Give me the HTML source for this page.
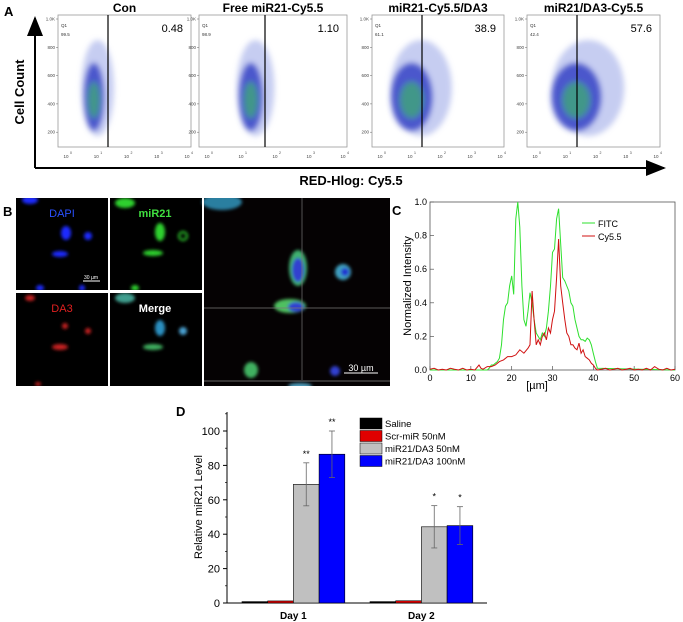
<!DOCTYPE html>
<html><head><meta charset="utf-8"><style>
body{margin:0;background:#fff}
svg{display:block;font-family:"Liberation Sans",Arial,sans-serif}
</style></head><body>
<svg id="fig" width="683" height="622" viewBox="0 0 683 622">
<defs>
<filter id="bl" x="-50%" y="-50%" width="200%" height="200%"><feGaussianBlur stdDeviation="3"/></filter>
<filter id="bl2" x="-50%" y="-50%" width="200%" height="200%"><feGaussianBlur stdDeviation="1.5"/></filter>
<clipPath id="bclip"><rect x="16" y="198" width="92" height="92"/><rect x="110" y="198" width="92" height="92"/><rect x="16" y="293" width="92" height="93"/><rect x="110" y="293" width="92" height="93"/><rect x="204" y="198" width="186" height="188"/></clipPath>
<marker id="arr" markerWidth="10" markerHeight="8" refX="9" refY="4" orient="auto"><path d="M0,0 L10,4 L0,8 z" fill="#000"/></marker>
</defs>
<!-- Panel A -->
<g>
<text x="4" y="16" font-size="13" font-weight="bold">A</text>
<line x1="35" y1="168" x2="35" y2="18" stroke="#000" stroke-width="2" marker-end="url(#arr)"/>
<line x1="35" y1="168" x2="664" y2="168" stroke="#000" stroke-width="2" marker-end="url(#arr)"/>
<text transform="translate(24,92) rotate(-90)" text-anchor="middle" font-size="13" font-weight="bold">Cell Count</text>
<text x="351" y="185" text-anchor="middle" font-size="13" font-weight="bold">RED-Hlog: Cy5.5</text>
<g id="flow"></g>
</g>
<!-- Panel B -->
<g>
<text x="3" y="216" font-size="13" font-weight="bold">B</text>
<rect x="16" y="198" width="92" height="92" fill="#000"/>
<rect x="110" y="198" width="92" height="92" fill="#000"/>
<rect x="16" y="293" width="92" height="93" fill="#000"/>
<rect x="110" y="293" width="92" height="93" fill="#000"/>
<rect x="204" y="198" width="186" height="188" fill="#050203"/>
<g clip-path="url(#bclip)"><g filter="url(#bl2)">
<ellipse cx="66" cy="233" rx="5" ry="7" fill="#1a2cff"/><ellipse cx="88" cy="236" rx="4" ry="4" fill="#1a2cff"/><ellipse cx="60" cy="254" rx="8" ry="3" fill="#1a2cff"/><ellipse cx="40" cy="288" rx="4" ry="3" fill="#1a2cff"/><ellipse cx="82" cy="288" rx="3" ry="3" fill="#1a2cff"/><ellipse cx="30" cy="200" rx="8" ry="4" fill="#1a2cff"/>
<ellipse cx="160" cy="232" rx="5" ry="9" fill="#2fd02f"/><ellipse cx="183" cy="236" rx="4" ry="4" fill="none" stroke="#2fd02f" stroke-width="2"/><ellipse cx="153" cy="253" rx="10" ry="3" fill="#2fd02f"/><ellipse cx="135" cy="288" rx="4" ry="3" fill="#2fd02f"/><ellipse cx="125" cy="203" rx="10" ry="5" fill="#2fd02f"/>
<ellipse cx="65" cy="326" rx="3" ry="3" fill="#c82020"/><ellipse cx="88" cy="331" rx="3" ry="3" fill="#c82020"/><ellipse cx="60" cy="347" rx="8" ry="3" fill="#c82020"/><ellipse cx="30" cy="298" rx="5" ry="3" fill="#c82020"/><ellipse cx="38" cy="384" rx="3" ry="2" fill="#c82020"/>
<ellipse cx="160" cy="328" rx="5" ry="8" fill="#2a8fc0"/><ellipse cx="183" cy="331" rx="4" ry="4" fill="#4aa0d0"/><ellipse cx="153" cy="347" rx="10" ry="3" fill="#3fb060"/><ellipse cx="125" cy="298" rx="10" ry="5" fill="#3f9f8f"/>
<ellipse cx="222" cy="202" rx="20" ry="8" fill="#2a7fa0"/><ellipse cx="298" cy="268" rx="9" ry="18" fill="#3fb070"/><ellipse cx="298" cy="270" rx="6" ry="12" fill="#3340d0"/><ellipse cx="343" cy="272" rx="8" ry="8" fill="#40a0c0"/><ellipse cx="345" cy="272" rx="4" ry="4" fill="#2030d0"/><ellipse cx="290" cy="306" rx="16" ry="7" fill="#50c060"/><ellipse cx="296" cy="307" rx="8" ry="5" fill="#3340d0"/><ellipse cx="251" cy="370" rx="7" ry="8" fill="#40b060"/><ellipse cx="335" cy="371" rx="5" ry="5" fill="#3340d0"/><ellipse cx="300" cy="386" rx="12" ry="3" fill="#50a0c0"/>
</g></g>
<line x1="302" y1="198" x2="302" y2="380" stroke="#777" stroke-width="0.7"/>
<line x1="204" y1="308" x2="390" y2="308" stroke="#777" stroke-width="0.7"/>
<line x1="204" y1="381" x2="390" y2="381" stroke="#888" stroke-width="0.7"/>
<text x="62" y="217" text-anchor="middle" font-size="11" fill="#2a50ff">DAPI</text>
<text x="155" y="217" text-anchor="middle" font-size="11" font-weight="bold" fill="#40e040">miR21</text>
<text x="62" y="312" text-anchor="middle" font-size="11" fill="#e02020">DA3</text>
<text x="155" y="312" text-anchor="middle" font-size="11" font-weight="bold" fill="#fff">Merge</text>
<line x1="83" y1="281" x2="100" y2="281" stroke="#fff" stroke-width="1"/>
<text x="91" y="279" text-anchor="middle" font-size="5" fill="#fff">30 µm</text>
<line x1="344" y1="373" x2="378" y2="373" stroke="#fff" stroke-width="1"/>
<text x="361" y="371" text-anchor="middle" font-size="9" fill="#fff">30 µm</text>
</g>
<!-- Panel C -->
<g id="pc">
<text x="392" y="215" font-size="13" font-weight="bold">C</text>
<text transform="translate(411,286) rotate(-90)" text-anchor="middle" font-size="11">Normalized Intensity</text>
<text x="537" y="389" text-anchor="middle" font-size="11">[µm]</text>
<line x1="582" y1="223" x2="595" y2="223" stroke="#2ee02e" stroke-width="1"/>
<text x="598" y="227" font-size="9">FITC</text>
<line x1="582" y1="236" x2="595" y2="236" stroke="#d01010" stroke-width="1"/>
<text x="598" y="240" font-size="9">Cy5.5</text>
</g>
<!-- Panel D -->
<g id="pd">
<text x="176" y="416" font-size="13" font-weight="bold">D</text>
<text transform="translate(202,507) rotate(-90)" text-anchor="middle" font-size="11">Relative miR21 Level</text>
</g>
</svg>
<script>
var NS="http://www.w3.org/2000/svg";
function mk(p,t,a){var e=document.createElementNS(NS,t);for(var k in a)e.setAttribute(k,a[k]);p.appendChild(e);return e;}
// ---- Panel A data ----
var flowTitles=["Con","Free miR21-Cy5.5","miR21-Cy5.5/DA3","miR21/DA3-Cy5.5"];
var flowQ1=["99.5","98.9","61.1","42.4"];
var flowQ2=["0.48","1.10","38.9","57.6"];
var flowBoxL=[58,199,372,527];
var flowBoxR=[191,347,504,660];
var flowCenter=[0.27,0.35,0.30,0.37];
var flowSpread=[0.07,0.08,0.18,0.22];
var flowYTicks=["1.0K","800","600","400","200"];
var flowXTicks=["0","1","2","3","4"];
var flow=document.getElementById('flow');
for(var i=0;i<4;i++){
 var L=flowBoxL[i],R=flowBoxR[i],W=R-L,T=15,B=147;
 var g=mk(flow,'g',{});
 
 
 mk(g,'rect',{x:L,y:T,width:W,height:B-T,fill:'#fff',stroke:'#999','stroke-width':0.8});
 var cx=L+W*flowCenter[i],rx=W*flowSpread[i];
 var c=mk(g,'g',{filter:'url(#bl)'});
 mk(c,'ellipse',{cx:cx+rx*0.4,cy:88,rx:rx+7,ry:48,fill:'#8090e0',opacity:0.45});
 mk(c,'ellipse',{cx:cx,cy:97,rx:rx*0.75+3,ry:34,fill:'#2030c0',opacity:0.75});
 mk(c,'ellipse',{cx:cx,cy:100,rx:rx*0.4+2,ry:18,fill:'#40a878',opacity:0.8});
 var gx=[108,265,422,577][i];
 var gl=mk(g,'line',{x1:gx,y1:T,x2:gx,y2:B,stroke:'#000','stroke-width':1.2});
 
 
 var tt=mk(g,'text',{x:(L+R)/2,y:12,'text-anchor':'middle','font-size':12,'font-weight':'bold'});tt.textContent=flowTitles[i];
 
 
 var q=mk(g,'text',{x:L+3,y:27,'font-size':4.5,fill:'#333'});q.textContent='Q1';
 var q1=mk(g,'text',{x:L+3,y:36,'font-size':4.5,fill:'#333'});q1.textContent=flowQ1[i];
 
 
 var q2=mk(g,'text',{x:R-8,y:32,'text-anchor':'end','font-size':11});q2.textContent=flowQ2[i];
 
 
 for(var k=0;k<flowYTicks.length;k++){
  var yy=19+k*28.3;
  var yt=mk(g,'text',{x:L-3,y:yy+1.5,'text-anchor':'end','font-size':4.5,fill:'#444'});yt.textContent=flowYTicks[k];
  mk(g,'line',{x1:L-2,y1:yy,x2:L,y2:yy,stroke:'#666','stroke-width':0.5});
 }
 for(var k=0;k<flowXTicks.length;k++){
  var xx=L+8+k*(W-12)/4;
  var xt=mk(g,'text',{x:xx,y:158,'text-anchor':'middle','font-size':4.5,fill:'#444'});xt.textContent='10';
  var sp=mk(g,'text',{x:xx+4,y:154,'font-size':3.5,fill:'#444'});sp.textContent=flowXTicks[k];
 }
}
// ---- Panel C data ----
var fitcX=[0,14,14.5,15,15.5,16,16.5,17,17.5,18,18.5,19,19.5,20,20.5,21,21.5,22,22.5,23,23.5,24,24.5,25,25.5,26,26.5,27,27.5,28,28.5,29,29.5,30,30.5,31,31.5,32,32.5,33,33.5,34,34.5,35,35.5,36,36.5,37,37.5,38,38.5,39,39.5,40,40.5,41,60];
var fitcY=[0,0,0.01,0.03,0.03,0.04,0.05,0.07,0.15,0.3,0.38,0.4,0.5,0.56,0.45,0.9,1.0,0.85,0.5,0.3,0.26,0.35,0.46,0.4,0.3,0.22,0.2,0.18,0.22,0.2,0.25,0.35,0.5,0.7,0.72,0.9,0.96,0.75,0.55,0.53,0.5,0.47,0.4,0.38,0.3,0.25,0.2,0.18,0.18,0.17,0.19,0.18,0.15,0.1,0.05,0.01,0];
var cyX=[0,1,2,3,4,5,6,7,8,9,10,11,12,12.5,13,14,15,16,17,18,19,20,21,22,23,24,24.5,25,25.5,26,26.5,27,27.5,28,28.5,29,29.5,30,30.5,31,31.5,32,32.5,33,33.5,34,34.5,35,35.5,36,36.5,37,37.5,38,38.5,39,39.5,40,40.5,41,42,43,44,45,46,47,48,49,50,51,52,53,54,55,56,57,58,59,60];
var cyY=[0.005,0.01,0,0.005,0,0.01,0.005,0,0.01,0,0.005,0,0.03,0.01,0.005,0.02,0.02,0.03,0.05,0.06,0.08,0.08,0.09,0.12,0.1,0.13,0.15,0.47,0.3,0.15,0.18,0.15,0.2,0.22,0.18,0.25,0.22,0.3,0.35,0.55,0.78,0.5,0.4,0.3,0.22,0.2,0.15,0.15,0.13,0.12,0.16,0.1,0.12,0.08,0.07,0.06,0.04,0.03,0.01,0,0.005,0.01,0,0.005,0.01,0,0.005,0.01,0,0.005,0,0.01,0,0.02,0.005,0,0.01,0,0.005];
var cXTicks=[0,10,20,30,40,50,60];
var cYTicks=[0,0.2,0.4,0.6,0.8,1.0];
function cx_(v){return 430+v/60*245;}
function cy_(v){return 370-v*168;}
var pc=document.getElementById('pc');
mk(pc,'rect',{x:430,y:202,width:245,height:168,fill:'none',stroke:'#555','stroke-width':0.8});
cXTicks.forEach(function(t){mk(pc,'line',{x1:cx_(t),y1:370,x2:cx_(t),y2:366,stroke:'#555','stroke-width':0.7});var e=mk(pc,'text',{x:cx_(t),y:381,'text-anchor':'middle','font-size':9});e.textContent=t;});
cYTicks.forEach(function(t){mk(pc,'line',{x1:430,y1:cy_(t),x2:434,y2:cy_(t),stroke:'#555','stroke-width':0.7});var e=mk(pc,'text',{x:427,y:cy_(t)+3,'text-anchor':'end','font-size':9});e.textContent=t.toFixed(1);});
function path(X,Y){var d='';var n=Math.min(X.length,Y.length);for(var i=0;i<n;i++)d+=(i?'L':'M')+cx_(X[i]).toFixed(1)+','+cy_(Y[i]).toFixed(1);return d;}
var lf=mk(pc,'path',{d:path(fitcX,fitcY),fill:'none',stroke:'#2ee02e','stroke-width':1});


var lc=mk(pc,'path',{d:path(cyX,cyY),fill:'none',stroke:'#d01010','stroke-width':1});


// ---- Panel D data ----
var dDays=["Day 1","Day 2"];
var dSeries=["Saline","Scr-miR 50nM","miR21/DA3 50nM","miR21/DA3 100nM"];
var dColors=["#000","#e00000","#c0c0c0","#0000ff"];
var dVals=[[0.8,1.2,69,86.5],[0.8,1.3,44.3,45]];
var dErr=[[0,0,12.5,13.5],[0,0,12.3,11]];
var dStars=[["","","**","**"],["","","*","*"]];
var dYTicks=[0,20,40,60,80,100];
function dy(v){return 603-v*1.72;}
var dayX=[242,370],bw=25.7;
var pd=document.getElementById('pd');
mk(pd,'line',{x1:227,y1:412,x2:227,y2:603,stroke:'#000','stroke-width':1});
mk(pd,'line',{x1:227,y1:603,x2:487,y2:603,stroke:'#000','stroke-width':1});
dYTicks.forEach(function(t){mk(pd,'line',{x1:223,y1:dy(t),x2:227,y2:dy(t),stroke:'#000','stroke-width':1});mk(pd,'line',{x1:225,y1:dy(t+10),x2:227,y2:dy(t+10),stroke:'#000','stroke-width':0.7});var e=mk(pd,'text',{x:220,y:dy(t)+4,'text-anchor':'end','font-size':11});e.textContent=t;});
for(var d=0;d<2;d++){
 var lab=mk(pd,'text',{x:dayX[d]+2*bw,y:619,'text-anchor':'middle','font-size':10,'font-weight':'bold'});lab.textContent=dDays[d];
 for(var s=0;s<4;s++){
  var x=dayX[d]+s*bw,v=dVals[d][s];
  var b=mk(pd,'rect',{x:x,y:dy(v),width:bw,height:603-dy(v),fill:dColors[s],stroke:'#000','stroke-width':0.6});
  
  
  if(dErr[d][s]){var m=x+bw/2,e=dErr[d][s];
   mk(pd,'line',{x1:m,y1:dy(v+e),x2:m,y2:dy(v-e),stroke:'#666','stroke-width':0.8});
   mk(pd,'line',{x1:m-3,y1:dy(v+e),x2:m+3,y2:dy(v+e),stroke:'#666','stroke-width':0.8});
   mk(pd,'line',{x1:m-3,y1:dy(v-e),x2:m+3,y2:dy(v-e),stroke:'#666','stroke-width':0.8});}
  if(dStars[d][s]){var st=mk(pd,'text',{x:x+bw/2,y:dy(v+dErr[d][s])-6,'text-anchor':'middle','font-size':9});st.textContent=dStars[d][s];}
 }
}
for(var s=0;s<4;s++){
 var y=418+s*12.5;
 mk(pd,'rect',{x:360,y:y,width:22,height:11,fill:dColors[s],stroke:'#000','stroke-width':0.5});
 var t=mk(pd,'text',{x:385,y:y+9,'font-size':9.5});t.textContent=dSeries[s];
 
 
}
</script>
</body></html>
